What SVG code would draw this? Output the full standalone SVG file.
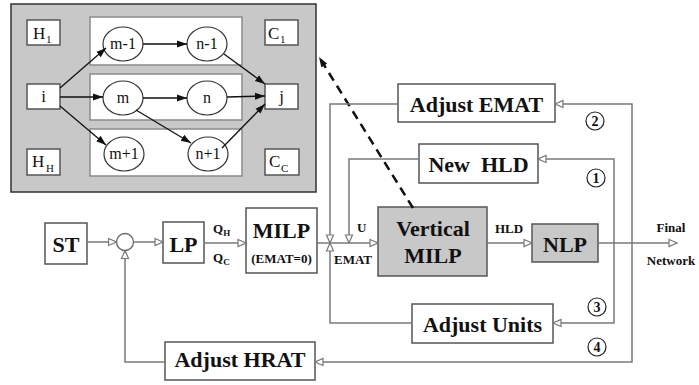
<svg xmlns="http://www.w3.org/2000/svg" width="699" height="385" viewBox="0 0 699 385" font-family="'Liberation Serif', Tinos, 'Times New Roman', 'DejaVu Serif', serif">
<style>
text{font-family:'Liberation Serif',Tinos,'Times New Roman','DejaVu Serif',serif}
.box{fill:#fff;stroke:#555;stroke-width:1.5}
.gbox{fill:#c8c8c8;stroke:#555;stroke-width:1.5}
.panel{fill:#fff;stroke:#8a8a8a;stroke-width:1.5}
.node{fill:#fff;stroke:#333;stroke-width:1.2}
.con{fill:none;stroke:#7a7a7a;stroke-width:1.5}
.ins{fill:none;stroke:#111;stroke-width:1.3}
.big{font-weight:bold;font-size:22px;fill:#111;text-anchor:middle}
.sm{font-weight:bold;font-size:13px;fill:#111}
.t{font-size:17px;fill:#111}
.tc{font-size:16px;fill:#111;text-anchor:middle}
.sub{font-size:11px;fill:#111}
.num{font-weight:bold;font-size:14px;fill:#111;text-anchor:middle}
</style>
<defs>
<marker id="oa" markerWidth="10" markerHeight="10" refX="8" refY="3.5" orient="auto" markerUnits="userSpaceOnUse" viewBox="-1 -1 10 9">
<path d="M0,0 L8,3.5 L0,7 z" fill="#fff" stroke="#777" stroke-width="1.2"/>
</marker>
<marker id="fa" markerWidth="11" markerHeight="9" refX="10" refY="3.5" orient="auto" markerUnits="userSpaceOnUse" viewBox="0 0 11 7">
<path d="M0,0 L10,3.5 L0,7 z" fill="#111"/>
</marker>
</defs>

<!-- Inset -->
<g id="inset">
<rect x="11" y="4" width="305" height="188" fill="#c8c8c8" stroke="#333" stroke-width="1.5"/>
<rect class="panel" x="90" y="17" width="152" height="48"/>
<rect class="panel" x="90" y="74" width="152" height="46"/>
<rect class="panel" x="90" y="129" width="152" height="47"/>
</g>
<g id="H1"><rect class="box" x="27" y="20" width="33" height="25"/><text class="t" x="33" y="39">H</text><text class="sub" x="46" y="43">1</text></g>
<g id="i"><rect class="box" x="27" y="84" width="33" height="25"/><text class="t" x="43.5" y="102" text-anchor="middle">i</text></g>
<g id="HH"><rect class="box" x="27" y="149" width="33" height="26"/><text class="t" x="32" y="167">H</text><text class="sub" x="46" y="172">H</text></g>
<g id="C1"><rect class="box" x="265" y="20" width="33" height="25"/><text class="t" x="268" y="39">C</text><text class="sub" x="280" y="43">1</text></g>
<g id="j"><rect class="box" x="265" y="84" width="33" height="25"/><text class="t" x="281.5" y="102" text-anchor="middle">j</text></g>
<g id="CC"><rect class="box" x="265" y="149" width="34" height="26"/><text class="t" x="269" y="167">C</text><text class="sub" x="281" y="172">C</text></g>
<g id="m-1"><ellipse class="node" cx="123" cy="44" rx="20" ry="17"/><text class="tc" x="123" y="49">m-1</text></g>
<g id="n-1"><ellipse class="node" cx="207" cy="44" rx="20" ry="17"/><text class="tc" x="207" y="49">n-1</text></g>
<g id="m"><ellipse class="node" cx="123" cy="98" rx="20" ry="17"/><text class="tc" x="123" y="103">m</text></g>
<g id="n"><ellipse class="node" cx="207" cy="98" rx="20" ry="17"/><text class="tc" x="207" y="103">n</text></g>
<g id="m+1"><ellipse class="node" cx="124" cy="154" rx="20" ry="17"/><text class="tc" x="124" y="159">m+1</text></g>
<g id="n+1"><ellipse class="node" cx="208" cy="154" rx="20" ry="17"/><text class="tc" x="208" y="159">n+1</text></g>

<!-- Main nodes -->
<g id="ST"><rect class="box" x="45" y="223" width="42" height="41"/><text class="big" x="66" y="252">ST</text></g>
<g id="sum"><circle cx="125" cy="242" r="8.5" fill="#fff" stroke="#666" stroke-width="1.3"/></g>
<g id="LP"><rect class="box" x="163" y="222" width="41" height="41"/><text class="big" x="183.5" y="252">LP</text></g>
<g id="MILP"><rect class="box" x="246" y="208" width="71" height="65"/><text class="big" x="281.5" y="238">MILP</text><text class="sm" x="281.5" y="263" text-anchor="middle" font-weight="normal">(EMAT=0)</text></g>
<g id="VerticalMILP"><rect class="gbox" x="378" y="207" width="109" height="69"/><text class="big" x="433" y="236">Vertical</text><text class="big" x="433" y="263">MILP</text></g>
<g id="NLP"><rect class="gbox" x="532" y="224" width="66" height="38"/><text class="big" x="565" y="252">NLP</text></g>
<g id="AdjustEMAT"><rect class="box" x="398" y="84" width="157" height="38"/><text class="big" x="476.5" y="112">Adjust EMAT</text></g>
<g id="NewHLD"><rect class="box" x="419" y="144" width="119" height="39"/><text class="big" x="478.5" y="172" xml:space="preserve">New  HLD</text></g>
<g id="AdjustUnits"><rect class="box" x="412" y="304" width="141" height="39"/><text class="big" x="482.5" y="332">Adjust Units</text></g>
<g id="AdjustHRAT"><rect class="box" x="165" y="342" width="150" height="38"/><text class="big" x="240" y="367">Adjust HRAT</text></g>

<!-- Connectors -->
<g id="connectors">
<path class="ins" d="M60,88 L106,48" marker-end="url(#fa)"/>
<path class="ins" d="M60,97 L103,97" marker-end="url(#fa)"/>
<path class="ins" d="M60,106 L106,145" marker-end="url(#fa)"/>
<path class="ins" d="M143,44 L187,44" marker-end="url(#fa)"/>
<path class="ins" d="M143,98 L187,98" marker-end="url(#fa)"/>
<path class="ins" d="M136,110 L191,143" marker-end="url(#fa)"/>
<path class="ins" d="M224,54 L265,84" marker-end="url(#fa)"/>
<path class="ins" d="M227,97 L265,96" marker-end="url(#fa)"/>
<path class="ins" d="M222,148 L265,104" marker-end="url(#fa)"/>
<path d="M413,208 L319,57" fill="none" stroke="#111" stroke-width="2.5" stroke-dasharray="9,6" marker-end="url(#fa)"/>

<path class="con" d="M87,242 L116.5,242" marker-end="url(#oa)"/>
<path class="con" d="M133.5,242 L163,242" marker-end="url(#oa)"/>
<path class="con" d="M204,243 L246,243" marker-end="url(#oa)"/>
<path class="con" d="M317,243 L378,243" marker-end="url(#oa)"/>
<path class="con" d="M487,243 L532,243" marker-end="url(#oa)"/>
<path class="con" d="M598,243 L677,243" marker-end="url(#oa)"/>
<path class="con" d="M398,104 H330 V243" marker-end="url(#oa)"/>
<path class="con" d="M412,323 H330 V243" marker-end="url(#oa)"/>
<path class="con" d="M419,159 H349 V243" marker-end="url(#oa)"/>
<path class="con" d="M632,243 V104 H555" marker-end="url(#oa)"/>
<path class="con" d="M632,243 V362 H315" marker-end="url(#oa)"/>
<path class="con" d="M614,243 V159 H538" marker-end="url(#oa)"/>
<path class="con" d="M614,243 V323 H553" marker-end="url(#oa)"/>
<path class="con" d="M165,362 H125 V250.5" marker-end="url(#oa)"/>
</g>

<!-- Labels -->
<g id="labels">
<text class="sm" x="213" y="233">Q<tspan font-size="9" dy="3">H</tspan></text>
<text class="sm" x="213" y="262">Q<tspan font-size="9" dy="3">C</tspan></text>
<text class="sm" x="357" y="232">U</text>
<text class="sm" x="353" y="264" text-anchor="middle">EMAT</text>
<text class="sm" x="509" y="233" text-anchor="middle">HLD</text>
<text class="sm" x="671" y="232" text-anchor="middle">Final</text>
<text class="sm" x="671" y="265" text-anchor="middle">Network</text>
<g><circle cx="595" cy="121" r="9" fill="#fff" stroke="#222" stroke-width="1.2"/><text class="num" x="595" y="126">2</text></g>
<g><circle cx="596" cy="178" r="9" fill="#fff" stroke="#222" stroke-width="1.2"/><text class="num" x="596" y="183">1</text></g>
<g><circle cx="597" cy="307" r="9" fill="#fff" stroke="#222" stroke-width="1.2"/><text class="num" x="597" y="312">3</text></g>
<g><circle cx="597" cy="347" r="9" fill="#fff" stroke="#222" stroke-width="1.2"/><text class="num" x="597" y="352">4</text></g>
</g>
</svg>
